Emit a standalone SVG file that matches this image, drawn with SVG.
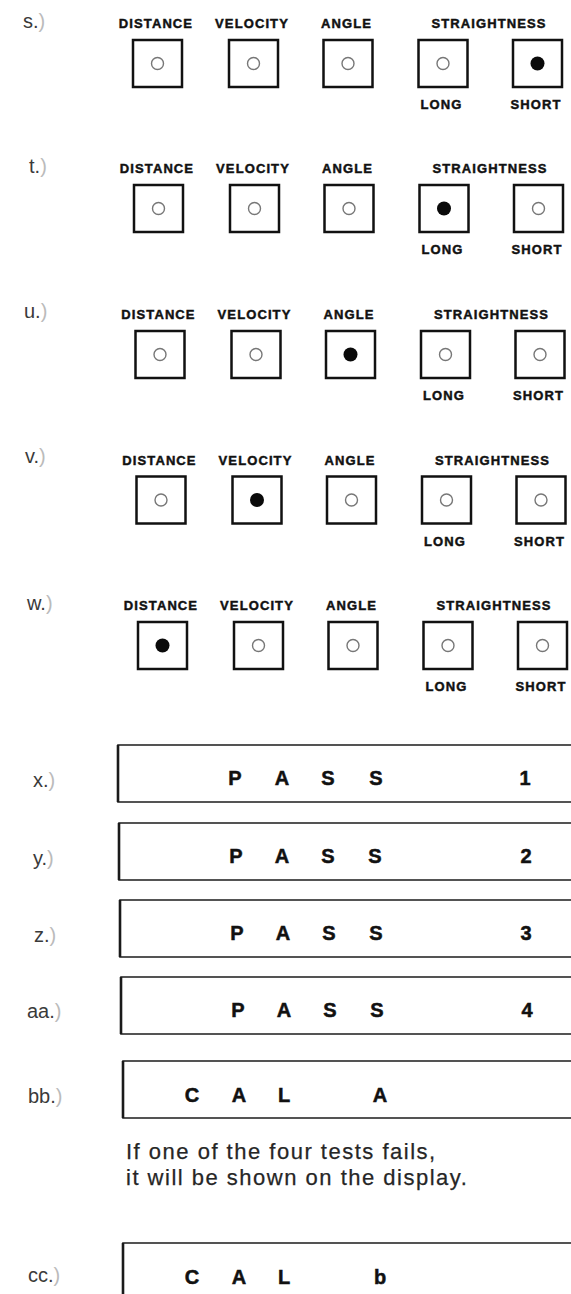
<svg xmlns="http://www.w3.org/2000/svg" width="571" height="1294" viewBox="0 0 571 1294">
<style>
.bg{fill:#fff}
.lbl{font-family:"Liberation Sans",Arial,sans-serif;font-size:20px;fill:#3a3a3a}
.par{fill:#bbb}
.hd{font-family:"Liberation Sans",Arial,sans-serif;font-size:13px;font-weight:bold;fill:#111;stroke:#111;stroke-width:0.45px;letter-spacing:1.1px;text-anchor:middle}
.key{fill:#fff;stroke:#111;stroke-width:2.5}
.off{fill:#fff;stroke:#777;stroke-width:1.4}
.on{fill:#0a0a0a}
.disp{fill:#fff;stroke:#2a2a2a;stroke-width:1.6}
.edge{stroke:#1a1a1a;stroke-width:2.6}
.big{font-family:"Liberation Sans",Arial,sans-serif;font-size:20px;font-weight:bold;fill:#111;stroke:#111;stroke-width:0.5px;text-anchor:middle}
.txt{font-family:"Liberation Sans",Arial,sans-serif;font-size:22px;fill:#262626;stroke:#262626;stroke-width:0.25px;letter-spacing:1.5px}
</style>
<defs>
<g id="hdr">
<text class="hd" x="156" y="0">DISTANCE</text>
<text class="hd" x="252" y="0">VELOCITY</text>
<text class="hd" x="346.5" y="0">ANGLE</text>
<text class="hd" x="489" y="0">STRAIGHTNESS</text>
<text class="hd" x="441.5" y="81">LONG</text>
<text class="hd" x="536" y="81">SHORT</text>
<rect class="key" x="133" y="12" width="49" height="47"/>
<rect class="key" x="229" y="12" width="49" height="47"/>
<rect class="key" x="323.5" y="12" width="49" height="47"/>
<rect class="key" x="418.5" y="12" width="49" height="47"/>
<rect class="key" x="513" y="12" width="49" height="47"/>
</g>
</defs>
<rect class="bg" x="0" y="0" width="571" height="1294"/>

<g id="row-s">
<text class="lbl" x="23" y="28">s.<tspan class="par">)</tspan></text>
<g transform="translate(0,28)">
<use href="#hdr"/>
<circle class="off" cx="157.5" cy="35.5" r="6"/>
<circle class="off" cx="253.5" cy="35.5" r="6"/>
<circle class="off" cx="348" cy="35.5" r="6"/>
<circle class="off" cx="443" cy="35.5" r="6"/>
<circle class="on" cx="537.5" cy="35.5" r="7"/>
</g>
</g>

<g id="row-t">
<text class="lbl" x="29" y="173">t.<tspan class="par">)</tspan></text>
<g transform="translate(1,173)">
<use href="#hdr"/>
<circle class="off" cx="157.5" cy="35.5" r="6"/>
<circle class="off" cx="253.5" cy="35.5" r="6"/>
<circle class="off" cx="348" cy="35.5" r="6"/>
<circle class="on" cx="443" cy="35.5" r="7"/>
<circle class="off" cx="537.5" cy="35.5" r="6"/>
</g>
</g>

<g id="row-u">
<text class="lbl" x="24" y="318">u.<tspan class="par">)</tspan></text>
<g transform="translate(2.5,319)">
<use href="#hdr"/>
<circle class="off" cx="157.5" cy="35.5" r="6"/>
<circle class="off" cx="253.5" cy="35.5" r="6"/>
<circle class="on" cx="348" cy="35.5" r="7"/>
<circle class="off" cx="443" cy="35.5" r="6"/>
<circle class="off" cx="537.5" cy="35.5" r="6"/>
</g>
</g>

<g id="row-v">
<text class="lbl" x="25" y="463">v.<tspan class="par">)</tspan></text>
<g transform="translate(3.5,464.5)">
<use href="#hdr"/>
<circle class="off" cx="157.5" cy="35.5" r="6"/>
<circle class="on" cx="253.5" cy="35.5" r="7"/>
<circle class="off" cx="348" cy="35.5" r="6"/>
<circle class="off" cx="443" cy="35.5" r="6"/>
<circle class="off" cx="537.5" cy="35.5" r="6"/>
</g>
</g>

<g id="row-w">
<text class="lbl" x="27" y="610">w.<tspan class="par">)</tspan></text>
<g transform="translate(5,610)">
<use href="#hdr"/>
<circle class="on" cx="157.5" cy="35.5" r="7"/>
<circle class="off" cx="253.5" cy="35.5" r="6"/>
<circle class="off" cx="348" cy="35.5" r="6"/>
<circle class="off" cx="443" cy="35.5" r="6"/>
<circle class="off" cx="537.5" cy="35.5" r="6"/>
</g>
</g>

<g id="row-x">
<text class="lbl" x="33" y="787">x.<tspan class="par">)</tspan></text>
<rect class="disp" x="118" y="745" width="470" height="57"/>
<line class="edge" x1="118" y1="745" x2="118" y2="802"/>
<text class="big" x="235" y="785">P</text>
<text class="big" x="282" y="785">A</text>
<text class="big" x="328" y="785">S</text>
<text class="big" x="376" y="785">S</text>
<text class="big" x="525" y="785">1</text>
</g>

<g id="row-y">
<text class="lbl" x="33" y="865">y.<tspan class="par">)</tspan></text>
<rect class="disp" x="119" y="823" width="470" height="57"/>
<line class="edge" x1="119" y1="823" x2="119" y2="880"/>
<text class="big" x="236" y="863">P</text>
<text class="big" x="282" y="863">A</text>
<text class="big" x="328" y="863">S</text>
<text class="big" x="375" y="863">S</text>
<text class="big" x="526" y="863">2</text>
</g>

<g id="row-z">
<text class="lbl" x="34" y="942">z.<tspan class="par">)</tspan></text>
<rect class="disp" x="120" y="900" width="470" height="57"/>
<line class="edge" x1="120" y1="900" x2="120" y2="957"/>
<text class="big" x="237" y="940">P</text>
<text class="big" x="283" y="940">A</text>
<text class="big" x="329" y="940">S</text>
<text class="big" x="376" y="940">S</text>
<text class="big" x="526" y="940">3</text>
</g>

<g id="row-aa">
<text class="lbl" x="27" y="1018">aa.<tspan class="par">)</tspan></text>
<rect class="disp" x="121" y="977" width="470" height="57"/>
<line class="edge" x1="121" y1="977" x2="121" y2="1034"/>
<text class="big" x="238" y="1017">P</text>
<text class="big" x="284" y="1017">A</text>
<text class="big" x="330" y="1017">S</text>
<text class="big" x="377" y="1017">S</text>
<text class="big" x="527" y="1017">4</text>
</g>

<g id="row-bb">
<text class="lbl" x="28" y="1103">bb.<tspan class="par">)</tspan></text>
<rect class="disp" x="123" y="1061" width="470" height="57"/>
<line class="edge" x1="123" y1="1061" x2="123" y2="1118"/>
<text class="big" x="192" y="1102">C</text>
<text class="big" x="239" y="1102">A</text>
<text class="big" x="284" y="1102">L</text>
<text class="big" x="380" y="1102">A</text>
</g>

<g id="note">
<text class="txt" x="126" y="1159">If one of the four tests fails,</text>
<text class="txt" x="126" y="1185">it will be shown on the display.</text>
</g>

<g id="row-cc">
<text class="lbl" x="28" y="1282">cc.<tspan class="par">)</tspan></text>
<rect class="disp" x="123" y="1243" width="470" height="70"/>
<line class="edge" x1="123" y1="1243" x2="123" y2="1300"/>
<text class="big" x="192" y="1284">C</text>
<text class="big" x="239" y="1284">A</text>
<text class="big" x="284" y="1284">L</text>
<text class="big" x="380" y="1284">b</text>
</g>

<g id="connectors"/>
</svg>
